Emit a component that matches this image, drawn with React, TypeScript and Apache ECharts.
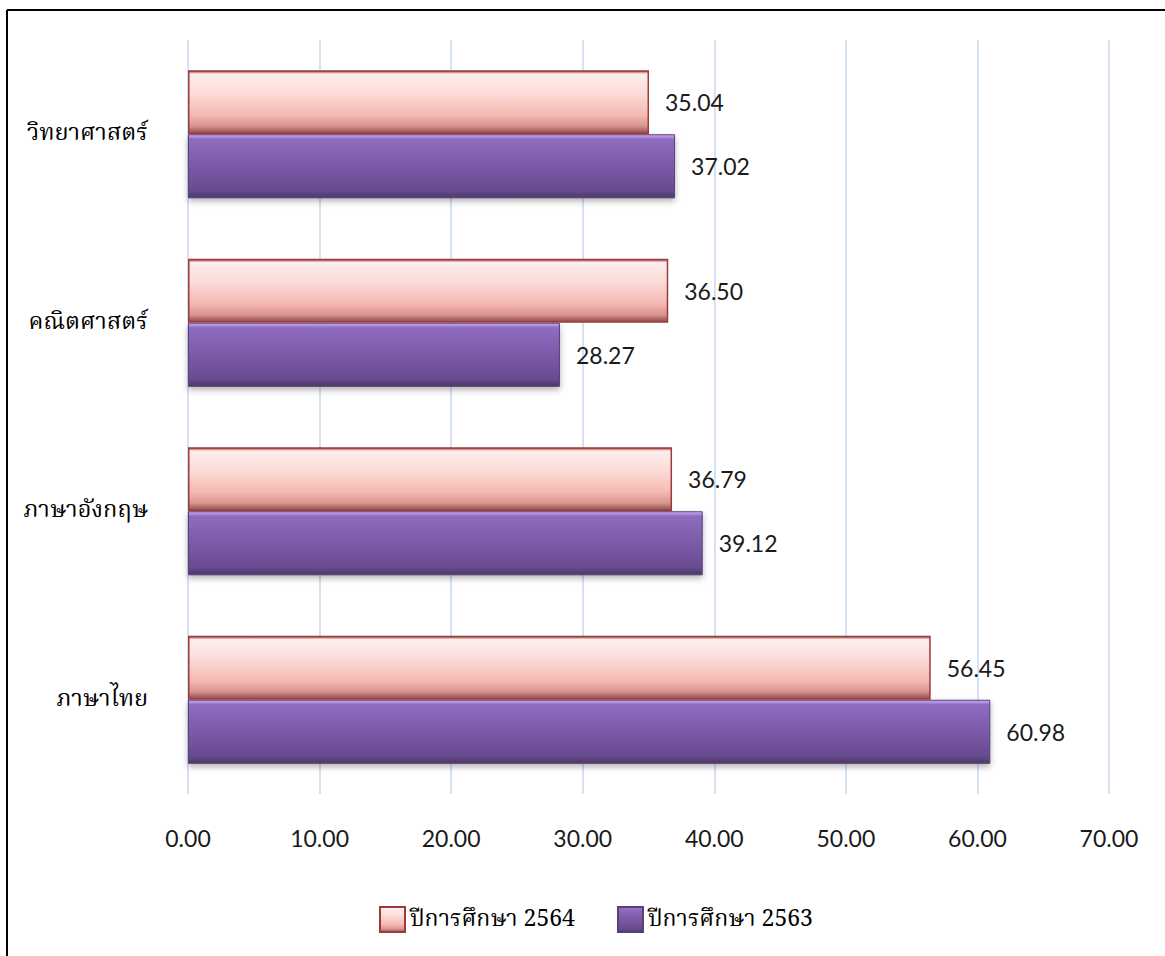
import React, { useEffect, useRef } from "react";
import * as echarts from "echarts";

const categories = ["ภาษาไทย", "ภาษาอังกฤษ", "คณิตศาสตร์", "วิทยาศาสตร์"];
const series2564 = [56.45, 36.79, 36.5, 35.04];
const series2563 = [60.98, 39.12, 28.27, 37.02];
const seriesNames = ["ปีการศึกษา 2564", "ปีการศึกษา 2563"];
const xTicks = { min: 0, max: 70, interval: 10 };

const thaiFont = "'Noto Serif Thai', 'Noto Sans Thai', 'Liberation Serif', serif";
const numFont = "Lato, 'Open Sans', sans-serif";

const pinkGrad = new echarts.graphic.LinearGradient(0, 0, 0, 1, [
  { offset: 0, color: "#a8403d" },
  { offset: 0.05, color: "#fdeeed" },
  { offset: 0.35, color: "#fcdcd8" },
  { offset: 0.7, color: "#f5b9b3" },
  { offset: 0.88, color: "#d99590" },
  { offset: 1, color: "#8e4a46" },
]);
const purpleGrad = new echarts.graphic.LinearGradient(0, 0, 0, 1, [
  { offset: 0, color: "#d2aef7" },
  { offset: 0.07, color: "#8f6cc0" },
  { offset: 0.5, color: "#7b5aa8" },
  { offset: 0.88, color: "#684b90" },
  { offset: 1, color: "#4c3868" },
]);

export default function App() {
  const ref = useRef<HTMLDivElement>(null);
  useEffect(() => {
    const chart = echarts.init(ref.current!, null, { renderer: "svg" });
    const labelStyle = {
      show: true,
      position: "right",
      distance: 16,
      fontFamily: numFont,
      fontSize: 23,
      color: "#1a1a1a",
      formatter: (p: any) => Number(p.value).toFixed(2),
    };
    chart.setOption({
      animation: false,
      backgroundColor: "#ffffff",
      grid: { left: 188, right: 56, top: 40, bottom: 162, containLabel: false },
      legend: {
        left: 374,
        top: 901,
        itemWidth: 25,
        itemHeight: 25,
        itemGap: 42,
        icon: "rect",
        textStyle: { fontFamily: thaiFont, fontSize: 23, color: "#000" },
        data: seriesNames,
      },
      xAxis: {
        type: "value",
        min: xTicks.min,
        max: xTicks.max,
        interval: xTicks.interval,
        axisLine: { show: false },
        axisTick: { show: false },
        splitLine: { lineStyle: { color: "#c6d9f1", width: 1.5 } },
        axisLabel: {
          margin: 32,
          fontFamily: numFont,
          fontSize: 23,
          color: "#1a1a1a",
          formatter: (v: number) => v.toFixed(2),
        },
      },
      yAxis: {
        type: "category",
        data: categories,
        axisLine: { show: false },
        axisTick: { show: false },
        axisLabel: { margin: 40, fontFamily: thaiFont, fontSize: 23.5, color: "#000" },
      },
      series: [
        {
          name: seriesNames[0],
          type: "bar",
          data: series2564,
          barGap: "0%",
          barCategoryGap: "32%",
          itemStyle: { color: pinkGrad, borderColor: "#9c3b3b", borderWidth: 1.5 },
          label: labelStyle,
          z: 3,
        },
        {
          name: seriesNames[1],
          type: "bar",
          data: series2563,
          barGap: "0%",
          barCategoryGap: "32%",
          itemStyle: {
            color: purpleGrad,
            borderColor: "#574275",
            borderWidth: 1,
            shadowColor: "rgba(0,0,0,0.3)",
            shadowBlur: 6,
            shadowOffsetY: 3,
          },
          label: labelStyle,
          z: 2,
        },
      ],
      graphic: [
        { type: "line", shape: { x1: 7, y1: 10, x2: 1165, y2: 10 }, style: { stroke: "#000", lineWidth: 2 } },
        { type: "line", shape: { x1: 7, y1: 10, x2: 7, y2: 956 }, style: { stroke: "#000", lineWidth: 2 } },
      ],
    });
    return () => chart.dispose();
  }, []);
  return (
    <div
      ref={ref}
      style={{ position: "fixed", left: 0, top: 0, width: 1165, height: 956 }}
    />
  );
}
